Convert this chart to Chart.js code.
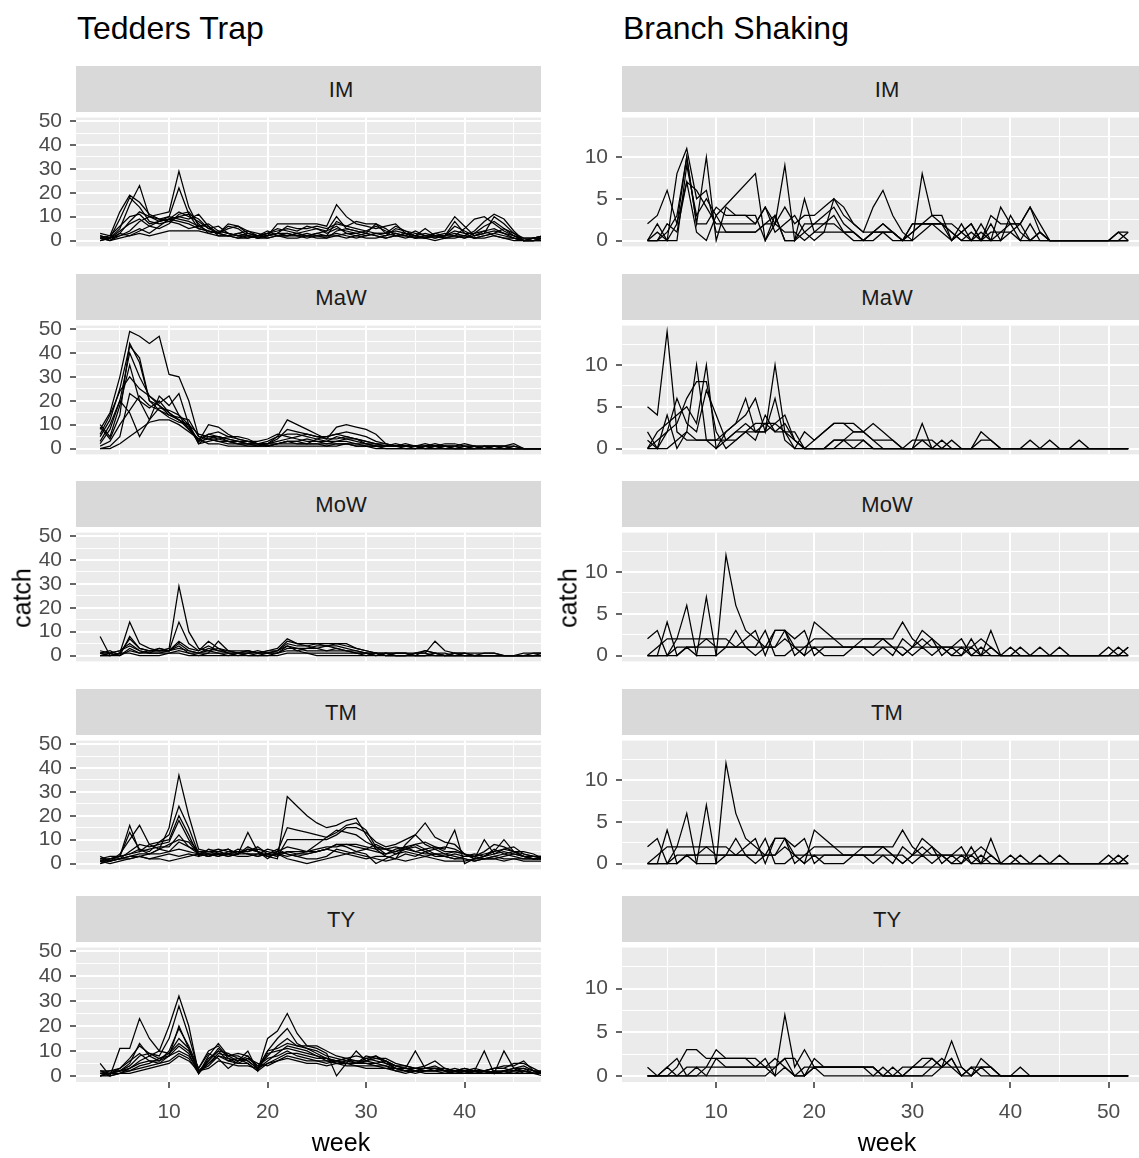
<!DOCTYPE html>
<html>
<head>
<meta charset="utf-8">
<script src="https://cdn.jsdelivr.net/npm/chart.js@4.4.1/dist/chart.umd.min.js"></script>
<style>
  body { margin: 0; background: #fff; width: 1139px; height: 1158px; position: relative; overflow: hidden;
         font-family: "Liberation Sans", Arial, sans-serif; }
  .abs { position: absolute; }
  .title { font-size: 32px; color: #000; white-space: nowrap; line-height: 1; }
  .strip { background: #d9d9d9; height: 46px; }
  .stripLabel { font-size: 22px; color: #1a1a1a; transform: translateX(-50%); white-space: nowrap; line-height: 1; }
  .axisTitle { font-size: 25px; color: #000; white-space: nowrap; line-height: 1; }
</style>
</head>
<body>
<script>
// weeks on the x axis
const weeksTT = [3,4,5,6,7,8,9,10,11,12,13,14,15,16,17,18,19,20,21,22,23,24,25,26,27,28,29,30,31,32,33,34,35,36,37,38,39,40,41,42,43,44,45,46,47,48];
const weeksBS = [3,4,5,6,7,8,9,10,11,12,13,14,15,16,17,18,19,20,21,22,23,24,25,26,27,28,29,30,31,32,33,34,35,36,37,38,39,40,41,42,43,44,45,46,47,48,49,50,51,52];
const facets = ['IM', 'MaW', 'MoW', 'TM', 'TY'];

const ttYLabels = [0, 10, 20, 30, 40, 50];
const bsYLabels = [0, 5, 10];
const ttXLabels = [10, 20, 30, 40];
const bsXLabels = [10, 20, 30, 40, 50];

// Tedders Trap catches (one row per trap)
const ttIM = [
  [1,0,3,8,12,10,11,12,29,14,6,4,3,2,3,2,1,2,3,2,3,2,3,4,6,3,2,3,2,1,2,3,2,1,2,3,2,1,3,4,2,1,0,0,1,1],
  [2,1,5,15,23,10,8,9,12,10,8,5,6,3,2,2,1,2,7,7,7,7,7,6,15,10,7,6,5,6,7,3,2,1,3,4,10,6,2,4,5,3,1,0,0,1],
  [1,2,12,19,16,11,9,10,22,11,5,4,3,5,6,3,2,3,4,5,4,6,5,4,10,5,4,3,7,5,2,3,1,2,1,2,3,2,4,8,11,9,4,0,0,1],
  [0,1,9,18,14,8,7,8,10,9,11,6,2,2,1,1,2,1,2,2,3,2,2,2,8,6,8,7,7,3,4,3,2,5,2,1,2,5,9,10,7,4,2,0,0,0],
  [2,1,4,7,9,6,5,7,11,12,7,3,4,3,2,3,2,3,5,4,3,4,5,3,5,4,3,4,6,4,3,2,1,2,3,2,8,3,1,2,3,5,3,1,1,2],
  [1,0,2,3,5,3,6,9,8,7,5,4,3,2,3,4,2,2,3,3,2,1,2,2,3,2,1,2,3,2,5,4,3,2,1,2,2,1,2,3,10,7,3,0,1,1],
  [0,1,3,2,3,2,3,4,4,4,4,3,2,2,1,2,2,3,2,1,1,2,1,1,2,1,2,1,1,2,3,2,1,1,2,1,1,2,1,2,3,2,1,0,0,0],
  [3,2,6,10,11,7,8,10,9,8,6,6,3,7,6,4,3,2,3,6,5,5,6,5,7,6,5,4,3,3,2,2,4,2,2,2,4,3,3,6,8,5,2,0,1,2],
  [1,1,2,4,8,10,9,8,7,5,6,7,4,3,2,1,2,4,2,2,2,3,2,1,4,5,4,3,2,1,2,1,2,1,0,1,2,2,1,1,2,1,1,0,0,1],
  [2,0,1,2,4,6,8,9,10,11,9,5,3,6,5,2,1,1,2,3,2,2,3,2,2,3,3,2,3,3,6,4,2,3,2,2,6,4,2,3,4,3,2,1,1,2]
];
const ttMaW = [
  [8,15,30,49,47,44,47,31,30,20,5,4,3,2,2,1,1,1,2,3,3,2,2,1,1,2,1,1,0,0,0,0,0,0,0,0,0,0,0,0,0,0,0,0,0,0],
  [5,12,25,43,38,20,18,14,12,10,6,5,4,3,3,2,2,2,5,6,6,5,4,3,5,4,3,2,1,1,2,1,1,0,1,1,0,1,1,0,1,0,0,0,0,0],
  [2,8,20,40,30,22,18,15,12,8,4,6,5,4,3,3,2,2,4,8,7,6,5,4,9,10,9,8,6,2,1,1,1,1,2,1,1,1,0,1,1,0,1,0,0,0],
  [10,5,18,35,20,12,22,18,23,10,3,10,9,6,4,3,2,3,5,12,10,8,6,4,4,5,4,3,2,1,1,1,0,1,1,2,2,1,1,0,1,1,2,0,0,0],
  [0,1,5,23,20,17,20,15,12,9,3,4,5,4,3,2,2,2,3,4,5,6,5,5,6,7,6,5,3,2,1,1,1,2,1,1,1,0,0,1,0,0,0,0,0,0],
  [0,0,2,5,8,11,12,12,10,7,4,2,2,1,1,1,1,1,1,1,1,1,1,1,2,2,1,1,1,0,0,0,0,0,0,0,0,0,0,0,0,0,0,0,0,0],
  [3,10,20,15,5,12,17,16,14,10,2,3,4,5,4,3,3,4,6,5,4,3,3,3,3,3,2,2,1,1,1,0,0,1,0,1,1,2,1,1,1,1,0,0,0,0],
  [6,14,24,30,25,22,19,22,14,8,3,6,7,5,5,4,2,1,2,3,2,2,4,5,6,5,4,2,2,1,1,2,1,0,0,0,0,0,0,0,0,0,0,0,0,0],
  [1,3,10,16,22,18,16,14,13,12,5,4,3,3,2,2,2,1,2,3,3,4,3,2,3,4,4,3,2,2,1,1,1,1,1,0,0,0,0,0,0,0,0,0,0,0],
  [9,4,14,44,36,20,16,13,11,10,2,5,5,3,2,2,1,2,2,2,2,2,2,2,2,2,2,1,1,1,1,1,1,1,1,1,0,0,1,1,1,1,1,0,0,0]
];
const ttMoW = [
  [8,0,1,14,5,3,2,3,29,10,3,2,3,2,1,2,1,2,3,7,5,4,3,2,3,2,1,1,1,0,0,0,1,1,6,2,1,0,0,0,0,0,0,0,0,1],
  [1,2,0,8,3,2,3,2,14,5,2,6,3,1,1,1,0,1,2,6,5,5,5,5,5,5,3,2,1,1,1,1,0,0,1,0,1,1,0,1,1,0,0,1,1,1],
  [0,0,1,7,3,2,2,2,5,2,1,1,6,2,2,2,1,2,2,5,4,4,5,4,5,4,3,2,1,0,1,1,0,2,1,1,0,0,0,0,0,0,0,0,0,0],
  [2,1,2,4,2,1,3,2,6,3,2,4,2,1,1,1,2,1,1,4,3,3,3,4,3,2,2,1,1,1,0,0,1,1,0,0,0,0,0,0,0,0,0,0,0,0],
  [0,1,2,5,2,1,1,2,3,2,1,2,1,1,0,1,1,1,1,3,3,2,2,2,2,2,1,0,1,0,0,0,0,0,1,0,0,1,0,0,0,0,0,0,0,0],
  [1,0,0,2,1,1,1,1,2,1,0,1,1,0,1,0,0,0,1,2,2,1,1,1,1,1,1,1,0,1,0,0,0,0,0,0,0,0,0,0,0,0,0,0,0,0],
  [0,0,1,1,0,0,0,1,1,0,0,0,0,0,0,0,0,0,0,1,1,1,0,0,0,0,0,0,0,0,0,0,0,0,0,0,0,0,0,0,0,0,0,0,0,0],
  [1,1,0,3,1,2,2,2,4,1,1,3,2,2,1,2,1,1,2,4,2,3,4,4,4,3,2,1,0,1,1,1,1,2,1,0,1,1,1,1,1,0,0,0,1,1]
];
const ttTM = [
  [1,2,3,16,5,8,6,15,37,20,6,5,4,3,4,13,5,3,2,28,24,20,17,15,16,18,19,12,6,3,2,8,12,17,11,9,8,4,2,3,5,10,5,3,2,3],
  [2,1,4,10,16,8,9,12,24,15,4,3,5,6,4,6,5,2,5,15,14,13,12,11,13,16,17,14,7,4,5,6,8,9,7,6,14,0,2,10,4,6,5,5,4,2],
  [0,2,3,4,6,5,9,10,20,12,3,6,5,4,6,5,7,4,3,10,10,10,10,10,12,15,15,13,9,7,8,10,12,8,6,7,6,4,3,5,8,7,5,3,2,2],
  [3,1,2,5,8,7,8,9,18,10,5,4,3,5,5,4,3,4,5,7,6,5,8,11,14,13,12,9,7,6,5,7,8,6,7,5,5,4,3,2,3,4,5,4,3,2],
  [1,2,2,3,4,4,6,8,10,9,4,3,4,3,4,6,5,3,4,3,4,5,5,6,8,8,7,6,5,4,6,7,5,6,4,3,4,3,3,4,5,6,7,4,3,3],
  [2,3,3,4,5,6,7,7,12,7,5,5,6,5,5,5,6,5,4,5,5,5,6,7,7,8,8,7,6,6,7,6,5,4,4,4,5,4,2,3,4,5,4,3,3,3],
  [1,1,2,2,3,4,4,5,6,5,4,4,4,4,4,4,4,3,4,2,1,0,1,2,3,4,5,4,0,2,4,6,7,5,3,3,2,2,1,2,3,2,2,1,1,1],
  [0,1,2,3,3,2,3,4,3,4,3,4,3,4,5,4,3,4,6,4,3,2,2,3,6,5,4,3,2,1,2,4,3,5,6,4,3,2,1,2,2,3,4,3,2,2],
  [2,2,3,13,6,4,6,5,9,7,4,5,5,6,4,7,5,4,3,5,4,4,5,6,8,7,5,6,8,6,4,5,4,3,4,3,2,3,4,3,6,4,3,2,2,2],
  [1,0,1,2,3,2,2,1,2,3,4,3,4,4,3,3,4,6,5,4,3,4,5,6,5,4,3,2,3,3,2,1,2,3,2,1,1,1,2,2,2,1,2,2,2,2]
];
const ttTY = [
  [5,0,11,11,23,15,10,20,32,20,1,8,13,8,6,10,2,15,18,25,17,12,11,9,0,5,10,6,8,5,4,3,10,3,3,2,2,3,2,10,1,10,3,1,1,1],
  [1,2,3,7,12,9,8,15,28,16,2,6,10,9,7,6,3,10,15,19,13,11,10,8,7,6,5,8,7,6,4,4,3,4,6,3,2,3,2,2,3,4,4,6,2,2],
  [0,1,2,5,13,8,6,10,19,12,3,10,12,7,5,7,4,8,12,15,12,11,9,7,6,7,8,7,6,5,3,2,3,3,3,2,2,2,3,2,3,3,5,5,3,1],
  [2,1,2,4,8,9,7,9,15,11,2,5,9,8,8,6,3,6,9,12,11,10,8,6,5,6,6,5,5,6,4,3,2,2,2,3,2,1,2,1,2,2,3,4,2,1],
  [0,0,1,3,5,6,6,8,12,9,1,7,10,6,5,5,2,5,7,9,9,8,7,7,6,5,4,4,4,3,3,2,2,3,4,2,1,2,2,2,1,2,2,3,1,1],
  [1,1,1,2,4,5,7,8,10,8,2,4,8,7,6,7,5,4,6,8,7,6,6,5,6,7,5,5,4,4,2,1,2,2,2,2,3,2,1,1,2,1,2,2,1,2],
  [0,1,2,2,3,4,5,6,9,7,1,6,11,8,9,8,4,7,8,10,8,7,6,6,6,5,5,6,5,4,3,3,3,2,2,1,2,2,2,2,1,2,1,2,1,1],
  [1,0,1,1,2,3,4,5,8,6,2,3,6,5,4,4,3,5,6,7,6,5,5,4,5,4,4,3,3,3,2,2,2,1,1,1,1,1,1,1,1,1,1,1,1,0],
  [2,2,2,3,6,8,10,9,13,10,3,9,7,3,6,8,3,10,11,13,12,12,12,10,8,7,6,6,7,7,5,4,3,3,3,3,2,2,1,2,3,3,2,2,1,1],
  [0,1,3,6,9,6,5,8,20,11,1,5,8,6,7,5,2,9,10,11,10,9,8,7,5,5,5,7,8,6,3,2,1,2,3,2,1,1,2,2,1,2,3,3,2,1]
];

// Branch Shaking catches (one row per tree), null = week not sampled
const bsIM = [
  [2,3,6,2,10,2,2,4,3,3,3,2,4,2,4,2,3,3,4,5,3,2,1,1,2,1,0,2,2,2,2,0,1,0,0,3,2,2,2,4,1,0,0,0,0,0,0,0,1,0],
  [0,1,0,8,11,5,6,1,1,1,1,1,2,2,9,0,2,2,3,4,2,1,0,1,2,1,0,0,8,3,2,2,1,2,0,0,1,2,0,2,0,0,0,0,0,0,0,0,0,1],
  [0,0,1,3,10,2,10,0,4,3,3,3,0,3,0,0,5,1,2,3,1,1,0,1,1,1,0,1,2,3,3,0,2,0,2,0,4,2,2,0,1,0,0,0,0,0,0,0,0,0],
  [0,2,0,2,7,1,0,3,null,null,null,8,0,2,1,1,0,1,1,5,4,2,1,4,6,3,1,0,1,2,2,1,0,0,1,0,0,1,2,4,2,0,0,0,0,0,0,0,0,0],
  [0,0,0,0,9,3,5,3,1,1,1,1,2,3,0,0,1,2,2,2,1,1,0,0,1,1,0,2,2,2,1,0,1,2,0,1,1,1,0,0,1,0,0,0,0,0,0,0,0,0],
  [0,0,2,1,7,6,4,2,2,2,2,2,4,1,2,3,1,0,1,1,1,0,0,1,1,0,0,1,2,2,2,1,0,1,0,2,0,3,1,0,0,0,0,0,0,0,0,0,1,1]
];
const bsMaW = [
  [5,4,14,2,1,1,1,1,2,3,4,6,2,10,2,0,0,1,2,3,3,2,2,3,2,1,0,0,1,0,0,0,0,0,0,0,0,0,0,0,0,0,0,0,0,0,0,0,0,0],
  [2,0,4,0,2,10,1,0,2,3,6,2,2,6,1,0,2,1,2,3,3,3,2,1,0,0,0,0,3,0,0,0,0,0,2,1,0,0,0,0,0,0,0,0,0,0,0,0,0,0],
  [0,2,3,4,5,3,10,0,1,2,2,3,3,3,4,1,0,0,0,1,1,2,2,1,1,1,0,1,1,1,0,0,0,0,1,1,0,0,0,1,0,1,0,0,1,0,0,0,0,0],
  [0,1,2,6,3,2,7,4,1,2,3,2,3,2,2,2,0,0,0,1,1,1,1,0,0,0,0,0,0,0,0,1,0,0,0,0,0,0,0,0,0,0,0,0,0,0,0,0,0,0],
  [1,0,2,3,6,8,8,2,0,1,2,1,4,2,3,1,0,0,0,0,1,0,1,0,0,0,0,0,0,0,0,0,0,0,0,0,0,0,0,0,0,0,0,0,0,0,0,0,0,0],
  [0,0,0,1,2,1,1,1,1,1,2,2,2,3,2,1,0,0,0,0,0,0,0,0,0,0,0,0,0,0,1,0,0,0,0,0,0,0,0,0,0,0,0,0,0,0,0,0,0,0]
];
const bsMoW = [
  [2,3,0,2,6,0,0,0,12,6,3,2,1,3,3,1,0,4,3,2,2,2,2,2,2,1,0,1,2,1,1,1,1,1,2,1,0,0,0,0,0,0,0,0,0,0,0,1,0,1],
  [0,0,4,0,1,0,7,0,1,1,2,3,0,3,3,0,1,2,2,2,1,1,1,1,2,2,4,2,1,1,1,0,1,0,0,3,0,1,0,0,1,0,0,0,0,0,0,0,1,0],
  [0,1,2,2,2,2,2,2,2,1,1,0,1,1,3,2,3,0,1,1,1,1,2,2,2,1,0,1,3,2,1,0,0,2,0,1,0,0,1,0,0,0,1,0,0,0,0,0,0,1],
  [0,0,0,1,1,1,1,1,1,1,1,1,3,0,0,1,1,1,1,1,1,1,1,0,1,1,1,0,1,0,1,1,2,0,1,0,0,0,0,0,0,0,0,0,0,0,0,0,0,0],
  [0,0,0,0,1,1,2,1,1,3,1,1,1,1,2,1,0,1,0,0,0,1,1,1,1,0,2,1,1,2,0,1,0,1,0,0,0,0,0,0,0,0,0,0,0,0,0,0,0,0]
];
const bsTM = [
  [2,3,0,2,6,0,0,0,12,6,3,2,1,3,3,1,0,4,3,2,2,2,2,2,2,1,0,1,2,1,1,1,1,1,2,1,0,0,0,0,0,0,0,0,0,0,0,1,0,1],
  [0,0,4,0,1,0,7,0,1,1,2,3,0,3,3,0,1,2,2,2,1,1,1,1,2,2,4,2,1,1,1,0,1,0,0,3,0,1,0,0,1,0,0,0,0,0,0,0,1,0],
  [0,1,2,2,2,2,2,2,2,1,1,0,1,1,3,2,3,0,1,1,1,1,2,2,2,1,0,1,3,2,1,0,0,2,0,1,0,0,1,0,0,0,1,0,0,0,0,0,0,1],
  [0,0,0,1,1,1,1,1,1,1,1,1,3,0,0,1,1,1,1,1,1,1,1,0,1,1,1,0,1,0,1,1,2,0,1,0,0,0,0,0,0,0,0,0,0,0,0,0,0,0],
  [0,0,0,0,1,1,2,1,1,3,1,1,1,1,2,1,0,1,0,0,0,1,1,1,1,0,2,1,1,2,0,1,0,1,0,0,0,0,0,0,0,0,0,0,0,0,0,0,0,0]
];
const bsTY = [
  [1,0,1,2,0,0,1,3,2,2,2,1,1,0,7,1,3,1,1,1,1,1,1,0,1,0,0,1,2,2,1,4,1,0,2,1,0,0,1,0,0,0,0,0,0,0,0,0,0,0],
  [0,0,0,1,3,3,2,2,2,2,2,2,1,1,2,2,0,2,1,1,1,1,1,1,0,1,0,1,1,2,1,2,0,1,1,1,0,0,0,0,0,0,0,0,0,0,0,0,0,0],
  [0,0,1,0,1,1,1,1,1,1,1,1,1,2,1,0,1,1,1,1,1,1,1,1,0,0,1,1,1,1,2,1,0,1,0,0,0,0,0,0,0,0,0,0,0,0,0,0,0,0],
  [0,0,0,0,0,1,0,2,1,1,1,1,2,0,1,0,0,1,0,0,0,0,0,0,0,0,0,0,0,0,1,2,0,0,1,1,0,0,0,0,0,0,0,0,0,0,0,0,0,0],
  [0,0,0,0,0,0,0,0,0,0,0,0,0,1,2,0,0,1,1,1,1,1,1,1,0,0,0,0,0,1,1,1,1,0,1,0,0,0,0,0,0,0,0,0,0,0,0,0,0,0]
];

// layout of the two facet columns
const ROW_TOP = 66, ROW_STEP = 207.5, STRIP_H = 46, PLOT_H = 140, Y_AXIS_W = 76, PAD = 15, X_AXIS_H = 50;
const columns = [
  { title: 'Tedders Trap', plotL: 76, plotR: 541, center: 341, xMin: 0.55, xMax: 47.76,
    yMin: -2.45, yMax: 51.45, yStep: 5, yLabels: ttYLabels, xLabels: ttXLabels,
    weeks: weeksTT, panels: [ttIM, ttMaW, ttMoW, ttTM, ttTY] },
  { title: 'Branch Shaking', plotL: 622, plotR: 1139, center: 887, xMin: 0.4, xMax: 53.1,
    yMin: -0.7, yMax: 14.7, yStep: 2.5, yLabels: bsYLabels, xLabels: bsXLabels,
    weeks: weeksBS, panels: [bsIM, bsMaW, bsMoW, bsTM, bsTY] }
];

Chart.defaults.font.family = '"Liberation Sans", Arial, sans-serif';

const panelBg = {
  id: 'panelBg',
  beforeDraw(chart) {
    const a = chart.chartArea, ctx = chart.ctx;
    ctx.save();
    ctx.fillStyle = '#ebebeb';
    ctx.fillRect(a.left, a.top, a.right - a.left, a.bottom - a.top);
    ctx.restore();
  }
};

function addDiv(cls, text, left, top, extra) {
  const d = document.createElement('div');
  d.className = 'abs ' + cls;
  d.textContent = text;
  d.style.left = left + 'px';
  d.style.top = top + 'px';
  if (extra) Object.assign(d.style, extra);
  document.body.appendChild(d);
  return d;
}

columns.forEach(col => {
  const plotW = col.plotR - col.plotL;
  addDiv('title', col.title, col.plotL + 1, 12);

  col.panels.forEach((series, r) => {
    const stripTop = ROW_TOP + r * ROW_STEP;
    const plotTop = stripTop + STRIP_H;
    const isBottom = r === facets.length - 1;

    addDiv('strip', '', col.plotL, stripTop, { width: plotW + 'px' });
    addDiv('stripLabel', facets[r], col.center, stripTop + 13);

    const cv = document.createElement('canvas');
    const cw = plotW + Y_AXIS_W;
    const ch = PLOT_H + PAD + (isBottom ? X_AXIS_H : PAD);
    cv.width = cw; cv.height = ch;
    cv.className = 'abs';
    cv.style.left = (col.plotL - Y_AXIS_W) + 'px';
    cv.style.top = (plotTop - PAD) + 'px';
    cv.style.width = cw + 'px';
    cv.style.height = ch + 'px';
    document.body.appendChild(cv);

    const xMajor = v => v % 10 === 0;
    const yMajor = v => col.yLabels.includes(v);

    new Chart(cv, {
      type: 'line',
      data: {
        datasets: series.map(s => ({
          data: s.map((v, i) => ({ x: col.weeks[i], y: v })),
          borderColor: '#000',
          borderWidth: 1.25,
          pointRadius: 0,
          tension: 0,
          spanGaps: true,
          fill: false
        }))
      },
      options: {
        responsive: false,
        animation: false,
        events: [],
        layout: { padding: { top: PAD, bottom: isBottom ? 0 : PAD, left: 0, right: 0 } },
        plugins: { legend: { display: false }, tooltip: { enabled: false } },
        scales: {
          x: {
            type: 'linear', min: col.xMin, max: col.xMax,
            border: { display: false },
            grid: {
              color: '#ffffff',
              lineWidth: c => (c.tick && xMajor(c.tick.value)) ? 2 : 1,
              drawTicks: isBottom, tickLength: 6, tickWidth: 1.5,
              tickColor: c => (c.tick && xMajor(c.tick.value)) ? '#333333' : 'rgba(0,0,0,0)'
            },
            ticks: {
              display: isBottom, stepSize: 5, includeBounds: false, autoSkip: false, maxRotation: 0,
              color: '#4d4d4d', font: { size: 21 }, padding: 12,
              callback: v => col.xLabels.includes(v) ? String(v) : ''
            },
            afterFit: ax => { ax.height = isBottom ? X_AXIS_H : 0; }
          },
          y: {
            type: 'linear', min: col.yMin, max: col.yMax,
            border: { display: false },
            grid: {
              color: '#ffffff',
              lineWidth: c => (c.tick && yMajor(c.tick.value)) ? 2 : 1,
              drawTicks: true, tickLength: 6, tickWidth: 1.5,
              tickColor: c => (c.tick && yMajor(c.tick.value)) ? '#333333' : 'rgba(0,0,0,0)'
            },
            ticks: {
              stepSize: col.yStep, includeBounds: false, autoSkip: false,
              color: '#4d4d4d', font: { size: 21 }, padding: 8,
              callback: v => col.yLabels.includes(v) ? String(v) : ''
            },
            afterFit: ax => { ax.width = Y_AXIS_W; }
          }
        }
      },
      plugins: [panelBg]
    });
  });

  // axis titles
  addDiv('axisTitle', 'week', col.center, 1130, { transform: 'translateX(-50%)' });
  addDiv('axisTitle', 'catch', col.plotL - 54, 598, { transform: 'translate(-50%,-50%) rotate(-90deg)' });
});
</script>
</body>
</html>
